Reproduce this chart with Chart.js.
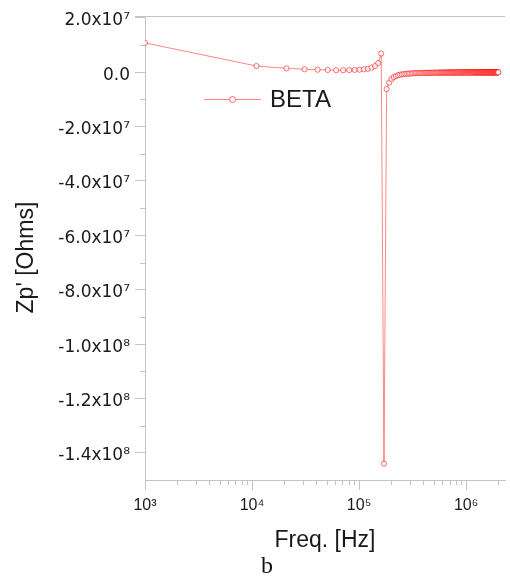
<!DOCTYPE html>
<html>
<head>
<meta charset="utf-8">
<script src="https://cdn.jsdelivr.net/npm/chart.js@4.4.1/dist/chart.umd.min.js"></script>
<style>
  html, body { margin: 0; padding: 0; background: #fff; }
  #wrap { width: 510px; height: 576px; }
</style>
</head>
<body>
<div id="wrap"><canvas id="zpChart" width="510" height="576"></canvas></div>
<script>
// sweep frequencies, kHz
const freqKHz = [
  1, 11, 21, 31, 41, 51, 61, 71, 81, 91,
  101, 111, 121, 131, 141, 151, 161, 171, 181, 191,
  201, 211, 221, 231, 241, 251, 261, 271, 281, 291,
  301, 311, 321, 331, 341, 351, 361, 371, 381, 391,
  401, 411, 421, 431, 441, 451, 461, 471, 481, 491,
  501, 511, 521, 531, 541, 551, 561, 571, 581, 591,
  601, 611, 621, 631, 641, 651, 661, 671, 681, 691,
  701, 711, 721, 731, 741, 751, 761, 771, 781, 791,
  801, 811, 821, 831, 841, 851, 861, 871, 881, 891,
  901, 911, 921, 931, 941, 951, 961, 971, 981, 991,
  1001, 1011, 1021, 1031, 1041, 1051, 1061, 1071, 1081, 1091,
  1101, 1111, 1121, 1131, 1141, 1151, 1161, 1171, 1181, 1191,
  1201, 1211, 1221, 1231, 1241, 1251, 1261, 1271, 1281, 1291,
  1301, 1311, 1321, 1331, 1341, 1351, 1361, 1371, 1381, 1391,
  1401, 1411, 1421, 1431, 1441, 1451, 1461, 1471, 1481, 1491,
  1501, 1511, 1521, 1531, 1541, 1551, 1561, 1571, 1581, 1591,
  1601, 1611, 1621, 1631, 1641, 1651, 1661, 1671, 1681, 1691,
  1701, 1711, 1721, 1731, 1741, 1751, 1761, 1771, 1781, 1791,
  1801, 1811, 1821, 1831, 1841, 1851, 1861, 1871, 1881, 1891,
  1901, 1911, 1921, 1931, 1941, 1951, 1961, 1971, 1981, 1991,
  2001
];

// Zp', in MOhm
const zpBetaMOhm = [
  10.8, 2.3, 1.45, 1.1, 0.95, 0.85, 0.75, 0.75, 0.8, 0.85,
  0.95, 1.1, 1.3, 1.7, 2.3, 3.4, 6.9, -144, -6.2, -3.8,
  -2.5, -1.8, -1.4, -1.1, -0.9, -0.78, -0.68, -0.6, -0.54, -0.49,
  -0.45, -0.41, -0.38, -0.35, -0.33, -0.31, -0.29, -0.27, -0.26, -0.25,
  -0.24, -0.23, -0.22, -0.21, -0.2, -0.19, -0.19, -0.18, -0.17, -0.17,
  -0.16, -0.16, -0.15, -0.15, -0.14, -0.14, -0.13, -0.13, -0.13, -0.12,
  -0.12, -0.12, -0.11, -0.11, -0.11, -0.11, -0.1, -0.1, -0.1, -0.1,
  -0.095, -0.093, -0.09, -0.088, -0.086, -0.084, -0.082, -0.08, -0.078, -0.076,
  -0.074, -0.073, -0.071, -0.07, -0.068, -0.067, -0.066, -0.064, -0.063, -0.062,
  -0.061, -0.06, -0.059, -0.058, -0.057, -0.056, -0.055, -0.054, -0.053, -0.053,
  -0.052, -0.051, -0.05, -0.05, -0.049, -0.048, -0.048, -0.047, -0.046, -0.046,
  -0.045, -0.045, -0.044, -0.043, -0.043, -0.042, -0.042, -0.041, -0.041, -0.04,
  -0.04, -0.04, -0.039, -0.039, -0.038, -0.038, -0.037, -0.037, -0.037, -0.036,
  -0.036, -0.035, -0.035, -0.035, -0.034, -0.034, -0.034, -0.033, -0.033, -0.033,
  -0.032, -0.032, -0.032, -0.031, -0.031, -0.031, -0.031, -0.03, -0.03, -0.03,
  -0.03, -0.029, -0.029, -0.029, -0.029, -0.028, -0.028, -0.028, -0.028, -0.027,
  -0.027, -0.027, -0.027, -0.026, -0.026, -0.026, -0.026, -0.026, -0.025, -0.025,
  -0.025, -0.025, -0.025, -0.024, -0.024, -0.024, -0.024, -0.024, -0.023, -0.023,
  -0.023, -0.023, -0.023, -0.023, -0.022, -0.022, -0.022, -0.022, -0.022, -0.022,
  -0.021, -0.021, -0.021, -0.021, -0.021, -0.021, -0.02, -0.02, -0.02, -0.02,
  -0.02
];

const seriesName = "BETA";

const xMajorTicks = [1e3, 1e4, 1e5, 1e6];
const xTickLabels = ["10³", "10⁴", "10⁵", "10⁶"];
const xMinorTicks = [
  2e3, 3e3, 4e3, 5e3, 6e3, 7e3, 8e3, 9e3,
  2e4, 3e4, 4e4, 5e4, 6e4, 7e4, 8e4, 9e4,
  2e5, 3e5, 4e5, 5e5, 6e5, 7e5, 8e5, 9e5,
  2e6
];

const yMajorTicks = [2e7, 0, -2e7, -4e7, -6e7, -8e7, -1e8, -1.2e8, -1.4e8];
const yTickLabels = ["2.0x10⁷", "0.0", "-2.0x10⁷", "-4.0x10⁷", "-6.0x10⁷",
                     "-8.0x10⁷", "-1.0x10⁸", "-1.2x10⁸", "-1.4x10⁸"];
const yMinorTicks = [1e7, -1e7, -3e7, -5e7, -7e7, -9e7, -1.1e8, -1.3e8];

const axisGray = "#c4c4c4";
const textColor = "#1a1a1a";
const lineRed = "rgba(255, 70, 70, 0.65)";
const markerRed = "rgba(255, 0, 0, 0.55)";

Chart.defaults.font.family = "'Liberation Sans', Arial, sans-serif";

const points = freqKHz.map((f, i) => ({ x: f * 1000, y: zpBetaMOhm[i] * 1e6 }));

// minor ticks + top frame line
const axisExtras = {
  id: "axisExtras",
  afterDraw(chart) {
    const { ctx, chartArea, scales } = chart;
    const x = scales.x, y = scales.y;
    ctx.save();
    ctx.strokeStyle = axisGray;
    ctx.lineWidth = 1;
    ctx.beginPath();
    ctx.moveTo(chartArea.left - 10, chartArea.top + 0.5);
    ctx.lineTo(chartArea.right, chartArea.top + 0.5);
    yMinorTicks.forEach(v => {
      const py = Math.round(y.getPixelForValue(v)) + 0.5;
      ctx.moveTo(chartArea.left - 5, py);
      ctx.lineTo(chartArea.left, py);
    });
    xMinorTicks.forEach(v => {
      const px = Math.round(x.getPixelForValue(v)) + 0.5;
      ctx.moveTo(px, chartArea.bottom);
      ctx.lineTo(px, chartArea.bottom + 5);
    });
    ctx.stroke();
    ctx.restore();
  }
};

// legend sitting inside the plot
const insideLegend = {
  id: "insideLegend",
  afterLayout(chart) {
    // nudge the "b" caption a bit right, like the figure
    if (chart.titleBlock) {
      chart.titleBlock.left += 12;
      chart.titleBlock.right += 12;
    }
  },
  afterDatasetsDraw(chart, args, opts) {
    const { ctx, chartArea } = chart;
    const ds = chart.data.datasets[0];
    const x0 = chartArea.left + opts.offsetX;
    const y0 = chartArea.top + opts.offsetY;
    ctx.save();
    ctx.strokeStyle = ds.borderColor;
    ctx.lineWidth = 1;
    ctx.beginPath();
    ctx.moveTo(x0, y0 + 0.5);
    ctx.lineTo(x0 + opts.lineLength, y0 + 0.5);
    ctx.stroke();
    ctx.beginPath();
    ctx.arc(x0 + opts.lineLength / 2, y0 + 0.5, 3, 0, Math.PI * 2);
    ctx.fillStyle = "#fff";
    ctx.fill();
    ctx.strokeStyle = ds.pointBorderColor;
    ctx.stroke();
    ctx.fillStyle = textColor;
    ctx.font = "24px 'Liberation Sans', Arial, sans-serif";
    ctx.textBaseline = "middle";
    ctx.fillText(ds.label, x0 + opts.lineLength + 9, y0 + 1);
    ctx.restore();
  }
};

const ctx = document.getElementById("zpChart");

new Chart(ctx, {
  type: "line",
  data: {
    datasets: [{
      label: seriesName,
      data: points,
      borderColor: lineRed,
      borderWidth: 1,
      pointRadius: 2.6,
      pointBorderWidth: 1,
      pointBorderColor: markerRed,
      pointBackgroundColor: "rgba(255,255,255,0.75)",
      tension: 0
    }]
  },
  options: {
    responsive: false,
    animation: false,
    layout: { padding: { top: 16, left: 0, right: 0, bottom: 0 } },
    plugins: {
      legend: { display: false },
      tooltip: { enabled: false },
      title: {
        display: true,
        position: "bottom",
        text: "b",
        color: "#111",
        font: { family: "'Liberation Serif', 'DejaVu Serif', serif", size: 24, weight: "normal", lineHeight: 0.75 },
        padding: { top: 6, bottom: 0 }
      },
      insideLegend: { offsetX: 59, offsetY: 83, lineLength: 57 }
    },
    scales: {
      x: {
        type: "logarithmic",
        min: 1e3,
        max: 2.31e6,
        afterBuildTicks: s => { s.ticks = xMajorTicks.map(v => ({ value: v })); },
        afterFit: s => { s.height = 72; },
        ticks: {
          callback: (v, i) => xTickLabels[i],
          color: textColor,
          font: { size: 16 },
          padding: 6,
          maxRotation: 0,
          autoSkip: false
        },
        grid: { drawOnChartArea: false, tickLength: 10, tickColor: axisGray },
        border: { color: axisGray },
        title: {
          display: true,
          text: "Freq. [Hz]",
          color: textColor,
          font: { size: 23, lineHeight: 1 },
          padding: { top: 0, bottom: 0 }
        }
      },
      y: {
        type: "linear",
        min: -1.5e8,
        max: 2.07e7,
        afterBuildTicks: s => { s.ticks = yMajorTicks.map(v => ({ value: v })); },
        afterFit: s => { s.width = 145; },
        ticks: {
          callback: (v, i) => yTickLabels[i],
          color: textColor,
          font: { family: "'DejaVu Sans', sans-serif", size: 17 },
          padding: 5,
          labelOffset: 3
        },
        grid: { drawOnChartArea: false, tickLength: 10, tickColor: axisGray },
        border: { color: axisGray },
        title: {
          display: true,
          text: "Zp' [Ohms]   ",
          color: textColor,
          font: { size: 23, lineHeight: 1 },
          padding: { top: 15, bottom: 0 }
        }
      }
    }
  },
  plugins: [axisExtras, insideLegend]
});
</script>
</body>
</html>
